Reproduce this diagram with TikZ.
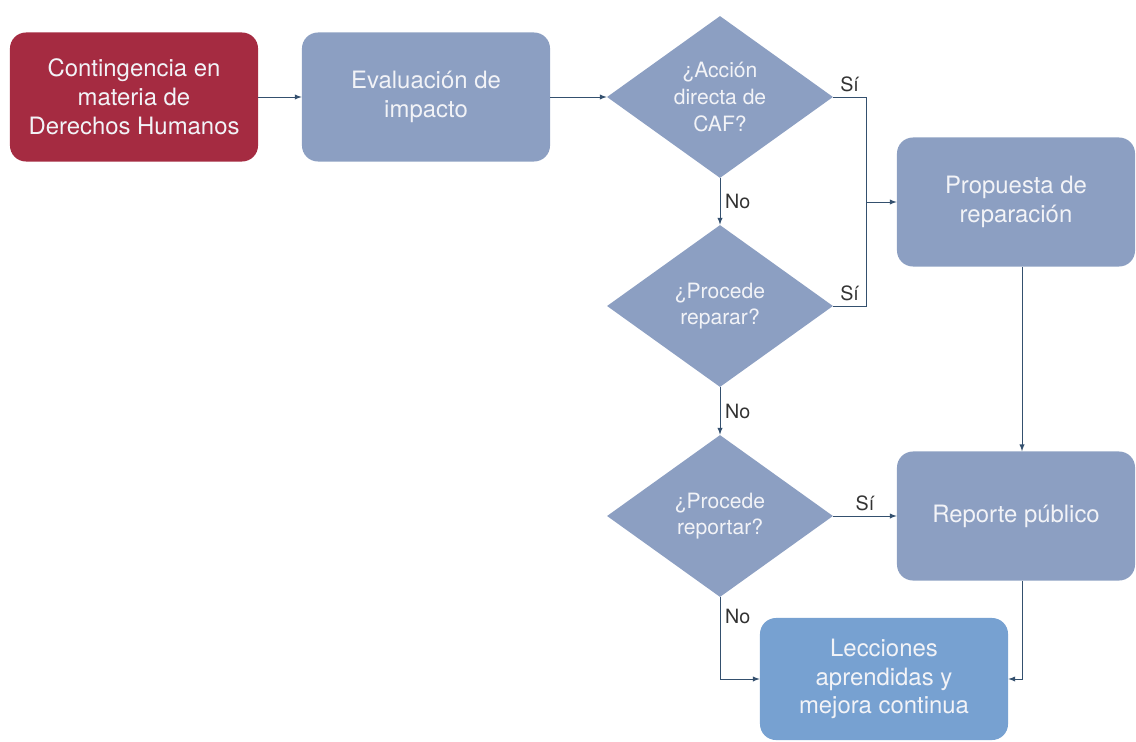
\documentclass[tikz,border=0pt]{standalone}
\usepackage{fontspec}
\setmainfont{TeX Gyre Heros}
\usepackage{xcolor}
\usepackage{tikz}
\usetikzlibrary{calc, arrows.meta, positioning, shapes.geometric}

\definecolor{cafred}{HTML}{A52B41}
\definecolor{cafgray}{HTML}{8C9FC2}
\definecolor{cafblue}{HTML}{77A1D1}
\definecolor{cafline}{HTML}{34506E}
\definecolor{caftext}{HTML}{F2F3F7}

\begin{document}
\begin{tikzpicture}[x=0.025cm, y=-0.025cm, >=latex, font=\fontsize{17}{20.5}\selectfont]
		\tikzstyle{box} = [draw=none, rounded corners=0.4cm, align=center, text=caftext, minimum width=6.2cm, minimum height=3.225cm]
		\tikzstyle{ask} = [draw=none, diamond, aspect=1.4, inner sep=0pt, fill=cafgray, align=center, text=caftext, minimum width=5.65cm, minimum height=4.05cm, font=\fontsize{15}{19}\selectfont]
		\tikzstyle{lbl} = [draw=none, text=black!80, font=\fontsize{14}{16}\selectfont]
		\tikzstyle{wire} = [color=cafline, line width=0.7pt]
		
		\useasboundingbox (0, 0) rectangle (1136, 742);
		
		\node[box, fill=cafred] 	at (134, 97) 	(cont) 	{Contingencia en\\materia de\\Derechos Humanos};
		\node[box, fill=cafgray] 	at (426, 97) 	(eval) 	{Evaluación de\\impacto};
		\node[ask] 	at (720, 97) 	(accion) 	{¿Acción\\directa de\\CAF?};
		\node[ask] 	at (720, 306) 	(reparar) 	{¿Procede\\reparar?};
		\node[ask] 	at (720, 516) 	(reportar) 	{¿Procede\\reportar?};
		\node[box, fill=cafgray, minimum width=5.95cm] 	at (1016, 202) 	(prop) 	{Propuesta de\\reparación};
		\node[box, fill=cafgray, minimum width=5.95cm] 	at (1016, 516) 	(rep) 	{Reporte público};
		\node[box, fill=cafblue, minimum height=3.05cm] 	at (884, 679) 	(lecc) 	{Lecciones\\aprendidas y\\mejora continua};
		
		\coordinate (jA) at (866, 97);
		\coordinate (jB) at (866, 306);
		\coordinate (jP) at (866, 202);
		
		\path[->, wire]
		(cont)		edge	(eval)
		(eval)		edge	(accion)
		(accion)	edge	node[lbl, right] {No}	(reparar)
		(reparar)	edge	node[lbl, right] {No}	(reportar)
		(reportar)	edge	node[lbl, above] {Sí}	(rep)
		(jP)		edge	(prop)
		([xshift=0.15cm]prop.south)	edge	([xshift=0.15cm]rep.north);
		
		\draw[wire] (accion.east) -- node[lbl, above] {Sí} (jA) -- (jB) -- node[lbl, above] {Sí} (reparar.east);
		\draw[->, wire] (reportar.south) |- node[lbl, right, pos=0.12] {No} (lecc.west);
		\draw[->, wire] ([xshift=0.15cm]rep.south) |- (lecc.east);
		\end{tikzpicture}
\end{document}
